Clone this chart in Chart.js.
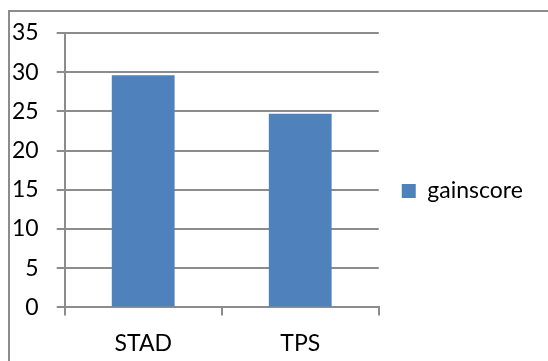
<!DOCTYPE html>
<html>
<head>
<meta charset="utf-8">
<script src="https://cdn.jsdelivr.net/npm/chart.js@4/dist/chart.umd.min.js"></script>
<style>
  body { margin: 0; background: #fff; }
  #wrap { position: relative; width: 548px; height: 361px; }
  #frame { position: absolute; left: 8px; top: 10px; right: -4px; bottom: -4px;
           border-left: 2px solid #8c8c8c; border-top: 2px solid #8c8c8c; pointer-events: none; }
</style>
</head>
<body>
<div id="wrap">
  <canvas id="chart" width="548" height="361"></canvas>
  <div id="frame"></div>
</div>
<script>
const categories = ['STAD', 'TPS'];
const seriesName = 'gainscore';
const gainscore = [29.6, 24.7];
const yTicks = [0, 5, 10, 15, 20, 25, 30, 35];

const font = { family: 'Lato', size: 23 };
const gridColor = '#8c8c8c';

// Excel puts the legend a bit lower and lets it run to the right edge
const legendFix = {
    id: 'legendFix',
    afterLayout(chart) {
        const lg = chart.legend;
        lg.left = chart.chartArea.right;
        lg.right = chart.width;
        lg.width = lg.right - lg.left;
        lg.top -= 22;
    }
};

const ctx = document.getElementById('chart').getContext('2d');
new Chart(ctx, {
    type: 'bar',
    data: {
        labels: categories,
        datasets: [{
            label: seriesName,
            data: gainscore,
            backgroundColor: '#4f81bd',
            borderWidth: 0,
            categoryPercentage: 1,
            barPercentage: 0.4
        }]
    },
    options: {
        responsive: false,
        animation: false,
        layout: { padding: { left: -6, top: 33, right: 41, bottom: -10 } },
        plugins: {
            legend: {
                position: 'right',
                labels: {
                    color: '#000',
                    font: font,
                    boxWidth: 14,
                    boxHeight: 14,
                    padding: 23
                }
            },
            tooltip: { enabled: false }
        },
        scales: {
            x: {
                offset: true,
                grid: {
                    offset: true,
                    drawOnChartArea: false,
                    color: gridColor,
                    lineWidth: 2,
                    tickLength: 8
                },
                border: { color: gridColor, width: 2 },
                ticks: { color: '#000', font: font, padding: 14 }
            },
            y: {
                min: 0,
                max: 35,
                afterBuildTicks(axis) {
                    axis.ticks = yTicks.map(v => ({ value: v }));
                },
                grid: { color: gridColor, lineWidth: 2, tickLength: 8 },
                border: { color: gridColor, width: 2 },
                ticks: { color: '#000', font: font, padding: 18 }
            }
        }
    },
    plugins: [legendFix]
});
</script>
</body>
</html>
